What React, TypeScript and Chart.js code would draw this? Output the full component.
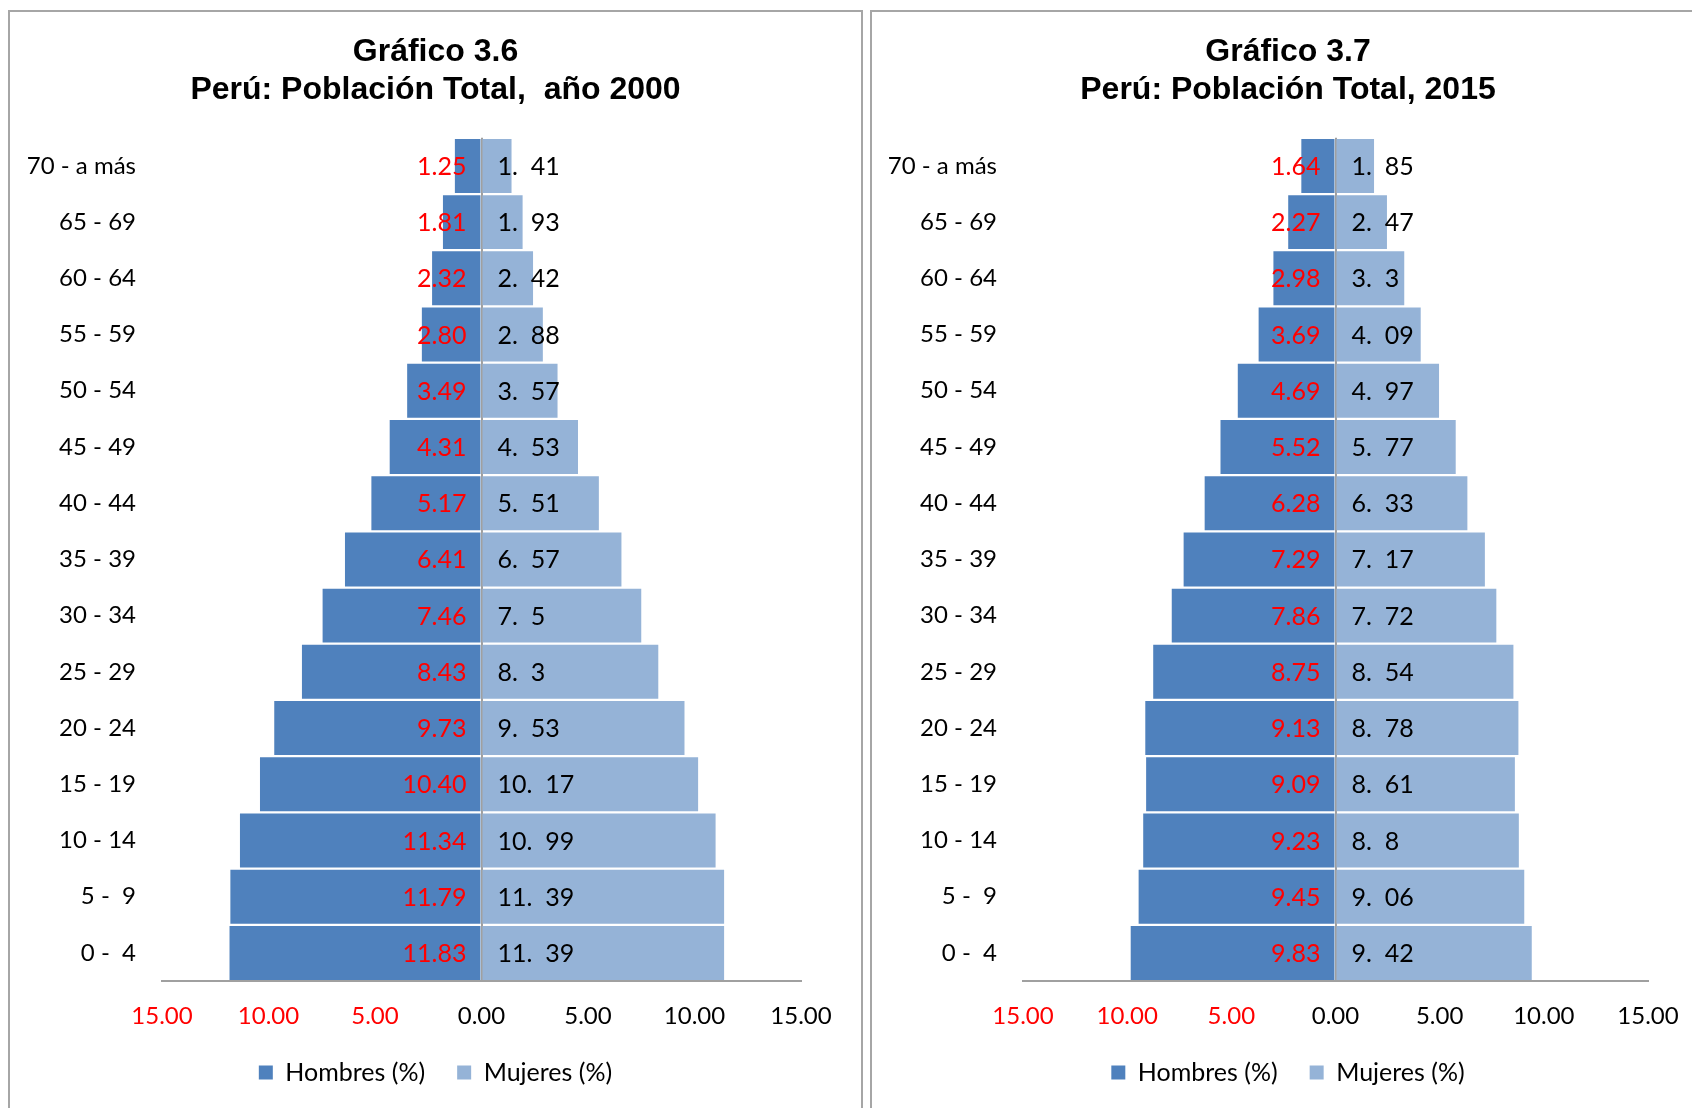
import React, { useEffect, useRef } from 'react';
import { Chart, registerables } from 'chart.js';

Chart.register(...registerables);

const ageGroups = [
  '70 - a más', '65 - 69', '60 - 64', '55 - 59', '50 - 54', '45 - 49', '40 - 44',
  '35 - 39', '30 - 34', '25 - 29', '20 - 24', '15 - 19', '10 - 14', '5 -  9', '0 -  4',
];

const men2000 = [1.25, 1.81, 2.32, 2.80, 3.49, 4.31, 5.17, 6.41, 7.46, 8.43, 9.73, 10.40, 11.34, 11.79, 11.83];
const women2000 = [1.41, 1.93, 2.42, 2.88, 3.57, 4.53, 5.51, 6.57, 7.5, 8.3, 9.53, 10.17, 10.99, 11.39, 11.39];

const men2015 = [1.64, 2.27, 2.98, 3.69, 4.69, 5.52, 6.28, 7.29, 7.86, 8.75, 9.13, 9.09, 9.23, 9.45, 9.83];
const women2015 = [1.85, 2.47, 3.3, 4.09, 4.97, 5.77, 6.33, 7.17, 7.72, 8.54, 8.78, 8.61, 8.8, 9.06, 9.42];

const seriesNames = ['Hombres (%)', 'Mujeres (%)'];
const xMin = -15;
const xMax = 15;
const xStep = 5;

const MEN_COLOR = '#4F81BD';
const WOMEN_COLOR = '#95B3D7';
const AXIS_COLOR = '#A0A0A0';
const LABEL_FONT = 'Lato';

type PyramidProps = {
  title: string[];
  men: number[];
  women: number[];
  width: number;
  height: number;
  yAxisWidth: number;
  rightWidth: number;
};

function formatWomen(v: number): string {
  return String(v).replace('.', '.  ');
}

function Pyramid({ title, men, women, width, height, yAxisWidth, rightWidth }: PyramidProps) {
  const ref = useRef<HTMLCanvasElement | null>(null);

  useEffect(() => {
    if (!ref.current) return;
    const labelPlugin = {
      id: 'barLabels',
      afterDatasetsDraw(chart: any) {
        const ctx = chart.ctx;
        const zero = chart.scales.x.getPixelForValue(0);
        ctx.save();
        ctx.font = `25px ${LABEL_FONT}`;
        ctx.textBaseline = 'middle';
        const menMeta = chart.getDatasetMeta(0);
        menMeta.data.forEach((el: any, i: number) => {
          ctx.fillStyle = '#FF0000';
          ctx.textAlign = 'right';
          ctx.fillText(men[i].toFixed(2), zero - 15, el.y + 1);
        });
        const womenMeta = chart.getDatasetMeta(1);
        womenMeta.data.forEach((el: any, i: number) => {
          ctx.fillStyle = '#000000';
          ctx.textAlign = 'left';
          ctx.fillText(formatWomen(women[i]), zero + 16, el.y + 1);
        });
        ctx.restore();
      },
    };

    const chart = new Chart(ref.current, {
      type: 'bar',
      data: {
        labels: ageGroups,
        datasets: [
          {
            label: seriesNames[0],
            data: men.map((v) => -v),
            backgroundColor: MEN_COLOR,
            borderWidth: 0,
            barPercentage: 0.96,
            categoryPercentage: 1,
          },
          {
            label: seriesNames[1],
            data: women,
            backgroundColor: WOMEN_COLOR,
            borderWidth: 0,
            barPercentage: 0.96,
            categoryPercentage: 1,
          },
        ],
      },
      options: {
        indexAxis: 'y',
        animation: false,
        responsive: false,
        maintainAspectRatio: false,
        devicePixelRatio: 1,
        layout: { padding: 0 },
        plugins: {
          title: {
            display: true,
            text: title,
            color: '#000000',
            font: { family: 'Liberation Sans', weight: 'bold', size: 32, lineHeight: 1.2 },
            padding: { top: 21, bottom: 28 },
          },
          legend: {
            display: true,
            position: 'bottom',
            labels: {
              boxWidth: 14,
              boxHeight: 14,
              padding: 32,
              color: '#000000',
              font: { family: LABEL_FONT, size: 25 },
            },
          },
          tooltip: { enabled: false },
        },
        scales: {
          x: {
            type: 'linear',
            min: xMin,
            max: xMax,
            stacked: true,
            z: 1,
            ticks: {
              stepSize: xStep,
              padding: 21,
              font: { family: LABEL_FONT, size: 24 },
              color: (c: any) => (c.tick && c.tick.value < 0 ? '#FF0000' : '#000000'),
              callback: (v: any) => Math.abs(Number(v)).toFixed(2),
            },
            grid: {
              drawTicks: false,
              lineWidth: 2,
              color: (c: any) => (c.tick && c.tick.value === 0 ? AXIS_COLOR : 'rgba(0,0,0,0)'),
            },
            border: { display: true, color: AXIS_COLOR, width: 2 },
            afterFit: (s: any) => {
              s.height = 47;
            },
          },
          y: {
            type: 'category',
            stacked: true,
            position: 'left',
            ticks: {
              padding: 26,
              color: '#000000',
              font: { family: LABEL_FONT, size: 24 },
            },
            grid: { display: false, drawTicks: false },
            border: { display: false },
            afterFit: (s: any) => {
              s.width = yAxisWidth;
            },
          },
          y2: {
            type: 'category',
            position: 'right',
            ticks: { display: false },
            grid: { display: false, drawTicks: false },
            border: { display: false },
            afterFit: (s: any) => {
              s.width = rightWidth;
            },
          },
        },
      } as any,
      plugins: [labelPlugin],
    });
    return () => chart.destroy();
  }, [title, men, women, width, height, yAxisWidth, rightWidth]);

  return <canvas ref={ref} width={width} height={height} style={{ display: 'block', width, height }} />;
}

const title2000 = ['Gráfico 3.6', 'Perú: Población Total,  año 2000'];
const title2015 = ['Gráfico 3.7', 'Perú: Población Total, 2015'];

export default function App() {
  return (
    <div
      style={{
        position: 'fixed',
        left: 0,
        top: 0,
        width: 1692,
        height: 1108,
        overflow: 'hidden',
        background: '#FFFFFF',
      }}
    >
      <div
        style={{
          position: 'absolute',
          left: 8,
          top: 10,
          width: 855,
          height: 1120,
          border: '2px solid #A6A6A6',
          boxSizing: 'border-box',
        }}
      >
        <Pyramid title={title2000} men={men2000} women={women2000} width={851} height={1083} yAxisWidth={152} rightWidth={60} />
      </div>
      <div
        style={{
          position: 'absolute',
          left: 870,
          top: 10,
          width: 836,
          height: 1120,
          border: '2px solid #A6A6A6',
          boxSizing: 'border-box',
        }}
      >
        <Pyramid title={title2015} men={men2015} women={women2015} width={832} height={1083} yAxisWidth={151} rightWidth={56} />
      </div>
    </div>
  );
}
